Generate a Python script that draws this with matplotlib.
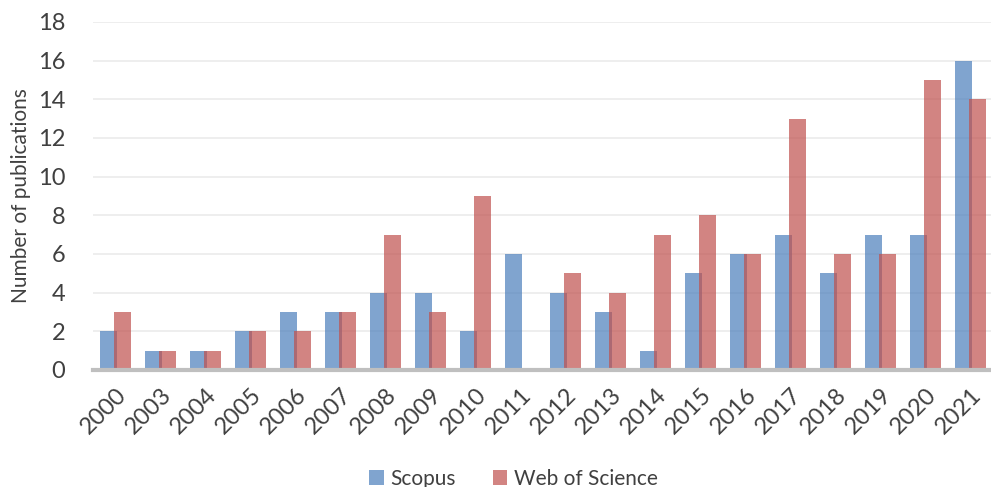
import matplotlib.pyplot as plt
import numpy as np

years = ["2000", "2003", "2004", "2005", "2006", "2007", "2008", "2009", "2010", "2011",
         "2012", "2013", "2014", "2015", "2016", "2017", "2018", "2019", "2020", "2021"]
scopus = [2, 1, 1, 2, 3, 3, 4, 4, 2, 6, 4, 3, 1, 5, 6, 7, 5, 7, 7, 16]
wos = [3, 1, 1, 2, 2, 3, 7, 3, 9, 0, 5, 4, 7, 8, 6, 13, 6, 6, 15, 14]

plt.rcParams['font.family'] = ['Lato', 'DejaVu Sans']
txt = '#404040'

fig = plt.figure(figsize=(9.91, 4.87), dpi=100)
ax = fig.add_axes([93 / 991, 117 / 487, 900 / 991, 348 / 487])

x = np.arange(len(years))
w = 0.38
ax.bar(x - 0.155, scopus, w, color='#4F81BD', alpha=0.72, label='Scopus', zorder=3)
ax.bar(x + 0.155, wos, w, color='#C0504D', alpha=0.7, label='Web of Science', zorder=4)

ax.set_xlim(-0.5, len(years) - 0.5)
ax.set_ylim(0, 18)
ax.set_yticks(range(0, 19, 2))
ax.grid(axis='y', color='#EBEBEB', linewidth=1.2, zorder=0)
ax.axhline(0, color='#BFBFBF', linewidth=3, zorder=5, clip_on=False)

for s in ax.spines.values():
    s.set_visible(False)
ax.tick_params(length=0)
ax.tick_params(axis='y', labelsize=17, labelcolor=txt, pad=20)
ax.set_xticks(x)
ax.set_xticklabels(years, rotation=45, ha='right', rotation_mode='anchor',
                   fontsize=17, color=txt)
ax.tick_params(axis='x', pad=10)
ax.set_ylabel('Number of publications', fontsize=15, color=txt, labelpad=5)

ax.legend(loc='lower center', bbox_to_anchor=(0.467, -0.395), ncol=2, frameon=False,
          fontsize=15, labelcolor=txt, handlelength=0.7, handleheight=0.7,
          handletextpad=0.3, columnspacing=1.8)

fig.savefig('out.png', dpi=100)
